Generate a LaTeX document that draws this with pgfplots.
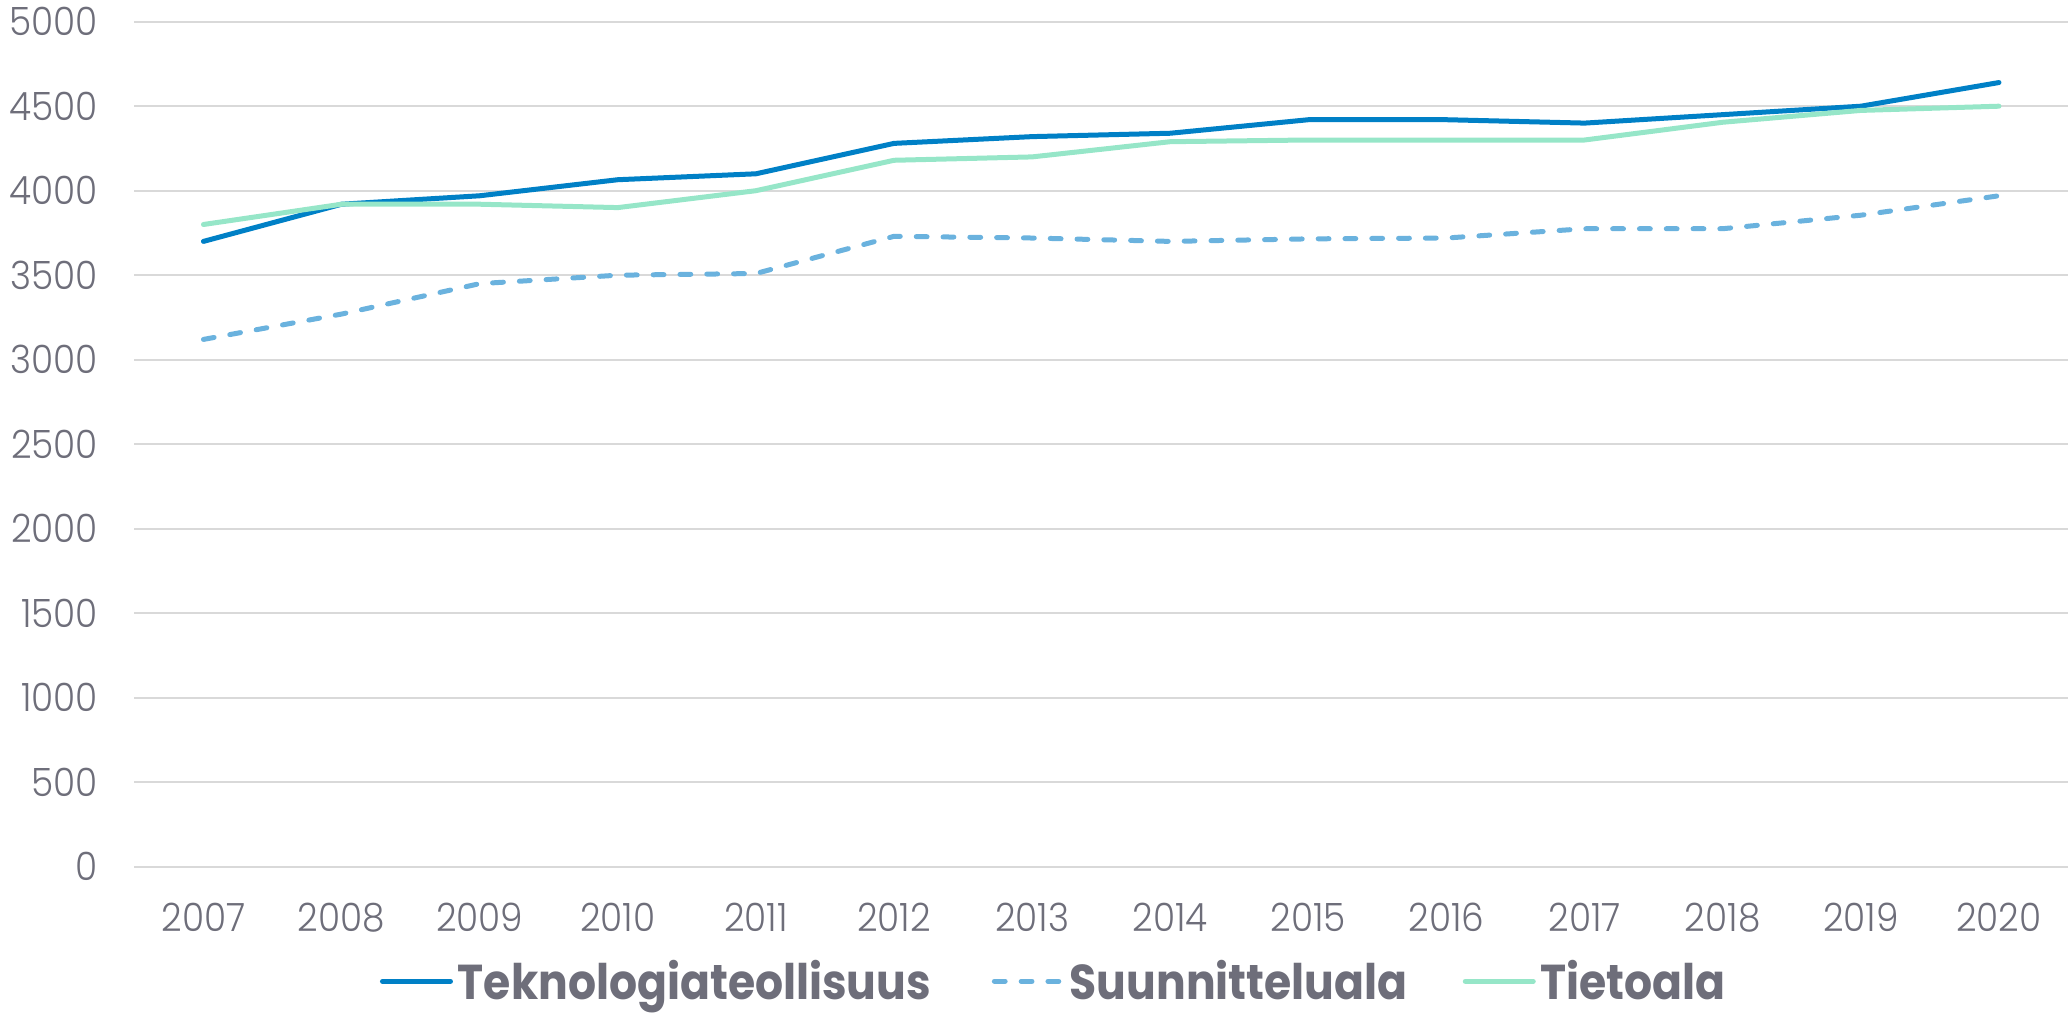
\documentclass[border=0pt]{standalone}
\usepackage{fontspec}
\setmainfont{Poppins}[UprightFont={* Light}, BoldFont={* Bold}]
\usepackage{pgfplots}
\pgfplotsset{compat=1.18}
\definecolor{tek}{RGB}{0,128,198}
\definecolor{suu}{RGB}{106,178,222}
\definecolor{tie}{RGB}{150,230,200}
\definecolor{gridc}{RGB}{217,217,217}
\definecolor{txt}{RGB}{110,110,122}
\begin{document}
\begin{tikzpicture}
\begin{axis}[name=ax, scale only axis, width=966.8bp, height=422.5bp,
  xmin=2006.5, xmax=2020.5, ymin=0, ymax=5000,
  xtick={2007,2008,...,2020}, ytick={0,500,...,5000},
  axis line style={draw=none}, major tick length=0pt,
  ymajorgrids, grid style={gridc, line width=1bp},
  /pgf/number format/assume math mode=true,
  /pgf/number format/1000 sep={},
  tick label style={font=\fontsize{19.5bp}{22bp}\selectfont\addfontfeature{FakeStretch=0.92}, text=txt, inner sep=0pt},
  yticklabel style={anchor=east, xshift=-18bp},
  xticklabel style={anchor=north, yshift=-18bp},
  legend columns=3,
  legend style={at={(0.1268,-0.1355)}, anchor=west, draw=none, fill=none, inner sep=0pt,
    nodes={inner sep=0pt},
    column sep=1.5bp, font=\bfseries\fontsize{24.5bp}{26bp}\selectfont\addfontfeature{FakeStretch=0.9}, text=txt,
    /tikz/every even column/.append style={column sep=0pt}},
  legend image code/.code={\path[draw=none,fill=none] (0bp,-1bp) rectangle (37.4bp,1bp); \draw[#1] (1.2bp,0bp) -- (35.2bp,0bp);},
  every axis plot/.append style={line width=2.5bp, line cap=round, line join=round},
]
\addplot[tek] coordinates {(2007,3700) (2008,3920) (2009,3970) (2010,4065) (2011,4100) (2012,4280) (2013,4320) (2014,4340) (2015,4420) (2016,4420) (2017,4400) (2018,4450) (2019,4500) (2020,4640)};
\addlegendentry{\makebox[267bp][l]{Teknologiateollisuus}}
\addplot[suu, dash pattern=on 5.4bp off 8bp] coordinates {(2007,3120) (2008,3270) (2009,3450) (2010,3500) (2011,3510) (2012,3730) (2013,3720) (2014,3700) (2015,3715) (2016,3720) (2017,3775) (2018,3775) (2019,3855) (2020,3970)};
\addlegendentry{\makebox[196.5bp][l]{Suunnitteluala}}
\addplot[tie] coordinates {(2007,3800) (2008,3920) (2009,3920) (2010,3900) (2011,4000) (2012,4180) (2013,4200) (2014,4290) (2015,4300) (2016,4300) (2017,4300) (2018,4405) (2019,4475) (2020,4500)};
\addlegendentry{Tietoala}
\end{axis}
\pgfresetboundingbox
\path ([xshift=-67.2bp,yshift=-73.65bp]ax.south west) rectangle ([yshift=10.85bp]ax.north east);
\end{tikzpicture}
\end{document}
